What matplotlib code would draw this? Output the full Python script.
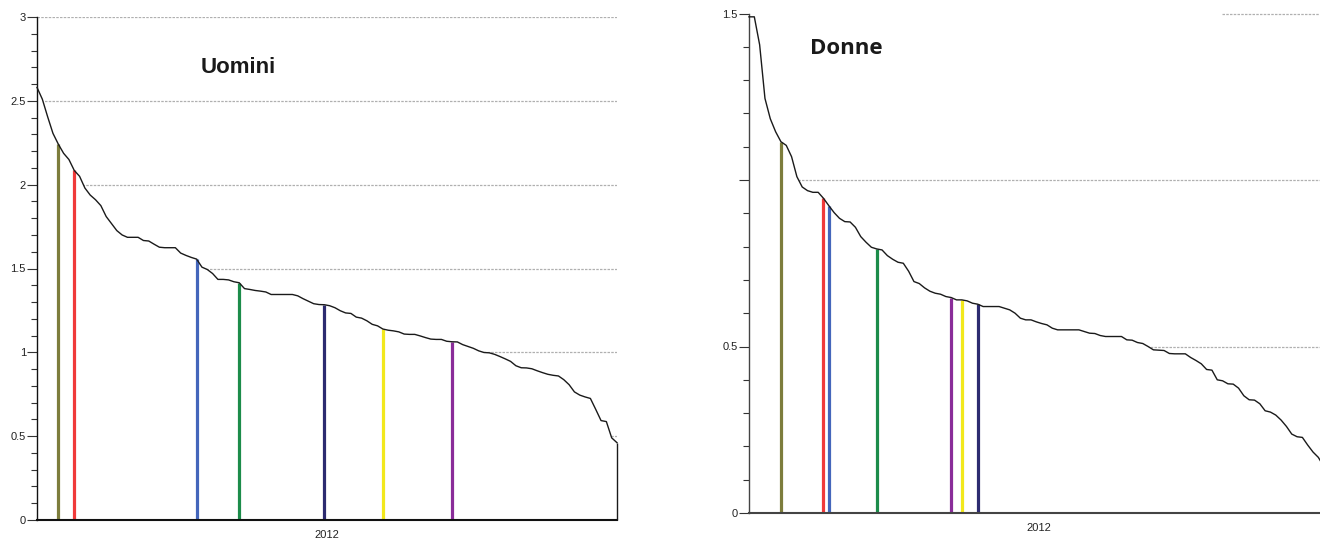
import matplotlib
matplotlib.use("Agg")
import matplotlib.pyplot as plt
import numpy as np
from matplotlib.ticker import MultipleLocator, FixedLocator, FixedFormatter

# ---------------- data ----------------
year_label = "2012"
title_men = "Uomini"
title_women = "Donne"

men_values = [
    2.58, 2.51, 2.405, 2.306, 2.242, 2.187, 2.15, 2.085, 2.05, 1.98,
    1.938, 1.91, 1.875, 1.81, 1.768, 1.726, 1.70, 1.686, 1.686, 1.686,
    1.667, 1.664, 1.645, 1.627, 1.624, 1.624, 1.624, 1.592, 1.578, 1.566,
    1.556, 1.508, 1.494, 1.47, 1.435, 1.435, 1.432, 1.421, 1.415, 1.38,
    1.375, 1.369, 1.365, 1.36, 1.345, 1.345, 1.345, 1.345, 1.345, 1.337,
    1.32, 1.305, 1.29, 1.285, 1.284, 1.278, 1.266, 1.248, 1.235, 1.232,
    1.21, 1.204, 1.188, 1.167, 1.158, 1.139, 1.132, 1.128, 1.122, 1.109,
    1.107, 1.107, 1.098, 1.088, 1.079, 1.077, 1.077, 1.066, 1.063, 1.062,
    1.046, 1.035, 1.024, 1.009, 0.999, 0.997, 0.988, 0.975, 0.961, 0.946,
    0.92, 0.908, 0.907, 0.902, 0.89, 0.879, 0.869, 0.863, 0.859, 0.837,
    0.807, 0.764, 0.745, 0.734, 0.725, 0.66, 0.593, 0.587, 0.49, 0.461,
]

women_values = [
    1.49, 1.49, 1.406, 1.245, 1.184, 1.145, 1.115, 1.104, 1.07, 1.01,
    0.979, 0.968, 0.963, 0.963, 0.945, 0.923, 0.902, 0.885, 0.875, 0.874,
    0.858, 0.83, 0.813, 0.798, 0.793, 0.79, 0.773, 0.762, 0.753, 0.75,
    0.726, 0.695, 0.689, 0.676, 0.666, 0.66, 0.657, 0.65, 0.647, 0.64,
    0.64, 0.637, 0.63, 0.627, 0.62, 0.62, 0.62, 0.62, 0.615, 0.61,
    0.60, 0.585, 0.58, 0.58, 0.574, 0.569, 0.565, 0.555, 0.55, 0.55,
    0.55, 0.55, 0.55, 0.545, 0.54, 0.539, 0.533, 0.53, 0.53, 0.53,
    0.53, 0.52, 0.519, 0.512, 0.509, 0.50, 0.49, 0.489, 0.488, 0.479,
    0.478, 0.478, 0.478, 0.467, 0.458, 0.448, 0.431, 0.429, 0.40, 0.397,
    0.388, 0.387, 0.375, 0.352, 0.34, 0.339, 0.328, 0.307, 0.303, 0.294,
    0.279, 0.26, 0.237, 0.229, 0.227, 0.204, 0.183, 0.167, 0.14, 0.12,
]

# highlighted positions (index in the ranking) and their colours
highlight_colors = ["#7d7d3c", "#f03a3a", "#4466bb", "#1c8c4a", "#2d2b70", "#f2e81c", "#8a2d99"]
men_highlight_idx = [4, 7, 30, 38, 54, 65, 78]
women_highlight_colors = ["#7d7d3c", "#f03a3a", "#4466bb", "#1c8c4a", "#8a2d99", "#f2e81c", "#2d2b70"]
women_highlight_idx = [6, 14, 15, 24, 38, 40, 43]

men_grid_levels = [0.5, 1.0, 1.5, 2.0, 2.5, 3.0]
women_grid_levels = [0.5, 1.0]

plt.rcParams['font.family'] = ['Liberation Sans', 'DejaVu Sans']

W, H = 1320, 545
fig = plt.figure(figsize=(W / 100, H / 100), dpi=100)


def setup(ax, values, idx, colors, ymax, grid_levels, ylabels_pos, ylabels_txt,
          spine_color):
    n = len(values)
    x = np.arange(n)
    y = np.array(values)
    ax.set_xlim(0, n - 1)
    ax.set_ylim(0, ymax)
    for g in grid_levels:
        ax.axhline(g, color="#b0b0b0", lw=0.9, ls=(0, (2, 1)), zorder=1)
    ax.fill_between(x, 0, y, color="white", zorder=1.5, lw=0)
    ax.plot(x, y, color="#1a1a1a", lw=1.0, zorder=3, clip_on=False)
    ax.vlines(x[-1], 0, y[-1], color="#1a1a1a", lw=1.0, zorder=3, clip_on=False)
    for i, c in zip(idx, colors):
        ax.vlines(x[i], 0, y[i], color=c, lw=2.3, zorder=2.5)
    for s in ["top", "right"]:
        ax.spines[s].set_visible(False)
    ax.spines["left"].set_color(spine_color)
    ax.spines["left"].set_linewidth(1.0)
    ax.spines["bottom"].set_color(spine_color)
    ax.spines["bottom"].set_linewidth(1.5)
    ax.yaxis.set_major_locator(FixedLocator(ylabels_pos))
    ax.yaxis.set_major_formatter(FixedFormatter(ylabels_txt))
    ax.yaxis.set_minor_locator(MultipleLocator(0.1))
    ax.tick_params(axis="y", which="major", length=7, width=0.8, color="#333333",
                   labelsize=8, labelcolor="#222222", pad=1)
    ax.tick_params(axis="y", which="minor", length=4, width=0.8, color="#333333")
    ax.set_xticks([(n - 1) / 2])
    ax.set_xticklabels([year_label])
    ax.tick_params(axis="x", length=0, labelsize=8, labelcolor="#222222", pad=7)
    ax.set_facecolor("white")


ax1 = fig.add_axes([37 / W, (H - 520) / H, 580 / W, 503 / H])
setup(ax1, men_values, men_highlight_idx, highlight_colors, 3.0, men_grid_levels,
      [0, 0.5, 1, 1.5, 2, 2.5, 3], ["0", "0.5", "1", "1.5", "2", "2.5", "3"], "#111111")
ax1.text(0.347, 0.9, title_men, transform=ax1.transAxes, ha="center", va="center",
         fontsize=16, fontweight="bold", color="#1a1a1a")

ax2 = fig.add_axes([749 / W, (H - 513) / H, 580 / W, 499.5 / H])
setup(ax2, women_values, women_highlight_idx, women_highlight_colors, 1.5, women_grid_levels,
      [0, 0.5, 1.0, 1.5], ["0", "0.5", "", "1.5"], "#444444")
ax2.axhline(1.5, xmin=0.815, color="#b0b0b0", lw=0.9, ls=(0, (2, 1)), zorder=1, clip_on=False)
ax2.text(0.168, 0.93, title_women, transform=ax2.transAxes, ha="center", va="center",
         fontsize=16, fontweight="bold", color="#1a1a1a", family=["Open Sans", "DejaVu Sans"])

fig.savefig("out.png", dpi=100, facecolor="white")
